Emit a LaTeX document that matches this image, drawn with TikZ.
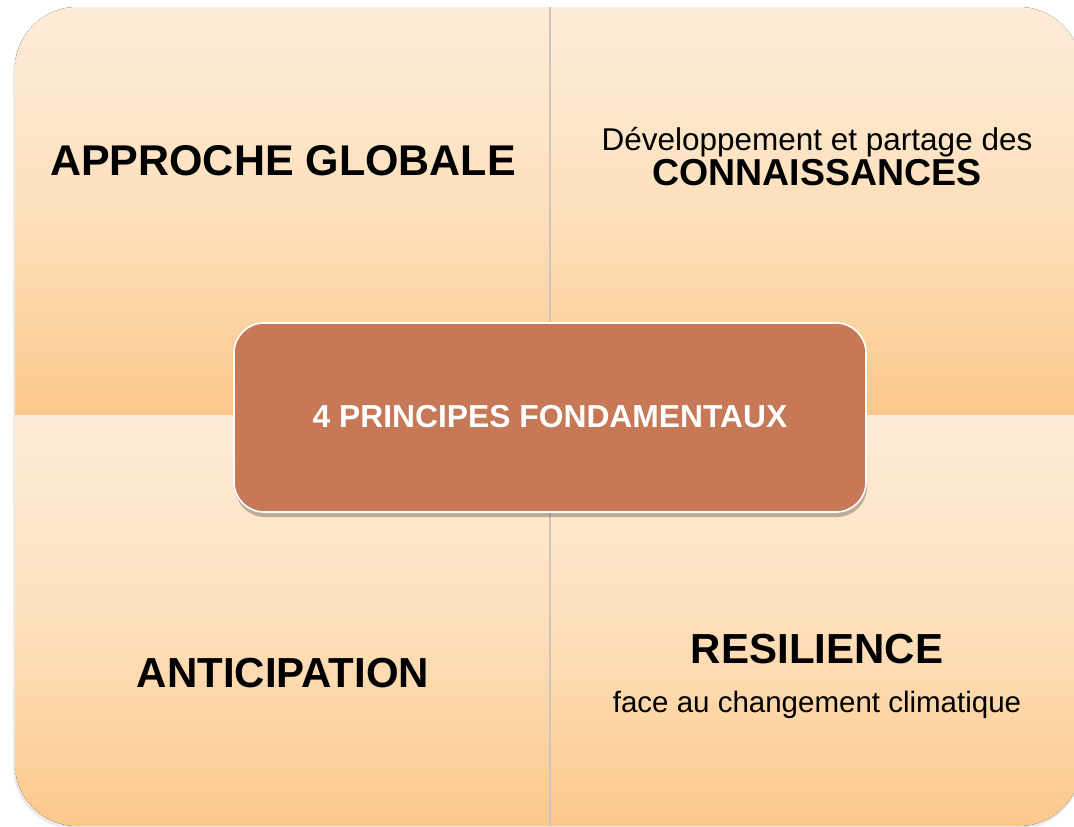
\documentclass[tikz,border=0pt]{standalone}
\usepackage{fontspec}
\setmainfont{Liberation Sans}
\usetikzlibrary{shadows}
\definecolor{peachlight}{RGB}{253,236,216}
\definecolor{peachmid}{RGB}{253,224,188}
\definecolor{peachdark}{RGB}{252,200,140}
\definecolor{centerfill}{RGB}{198,120,87}
\definecolor{divider}{RGB}{205,196,188}
\tikzset{
  quad/.style={top color=peachlight, bottom color=peachdark, middle color=peachmid},
  bigtxt/.style={font=\fontsize{43}{43}\selectfont\bfseries, text=black, inner sep=0pt, anchor=base},
  medtxt/.style={font=\fontsize{31.5}{31.5}\selectfont, text=black, inner sep=0pt, anchor=base},
  smalltxt/.style={font=\fontsize{29.5}{29.5}\selectfont, text=black, inner sep=0pt, anchor=base},
  centerbox/.style={draw=white, line width=1.6pt, fill=centerfill, rounded corners=30pt,
     drop shadow={shadow xshift=1pt, shadow yshift=-5pt, fill=black, opacity=0.25}},
}
\begin{document}
\begin{tikzpicture}[x=1pt,y=-1pt]
\useasboundingbox (0,0) rectangle (1074,827);
\fill[white] (0,0) rectangle (1074,827);
% outer shadow
\fill[black, opacity=0.08, rounded corners=62pt] (13,10) rectangle (1081,829);
\begin{scope}
  \clip[rounded corners=62pt] (15,7) rectangle (1081,826);
  \fill[quad] (15,7) rectangle (550,415);
  \fill[quad] (550,7) rectangle (1081,415);
  \fill[quad] (15,415) rectangle (550,826);
  \fill[quad] (550,415) rectangle (1081,826);
  \coordinate (dtop) at (550,7);
  \coordinate (dbot) at (550,826);
  \draw[divider, line width=2pt] (dtop) -- (dbot);
\end{scope}
\node[bigtxt] (tl) at (283,175) {APPROCHE GLOBALE};
\node[medtxt] (tr1) at (817,150) {Développement et partage des};
\node[bigtxt, font=\fontsize{37.5}{37.5}\selectfont\bfseries] (tr2) at (817,185) {CONNAISSANCES};
\node[bigtxt, font=\fontsize{42}{42}\selectfont\bfseries] (bl) at (283,687) {ANTICIPATION};
\node[bigtxt, font=\fontsize{42}{42}\selectfont\bfseries] (br1) at (817,663) {RESILIENCE};
\node[smalltxt] (br2) at (817,712) {face au changement climatique};
\path[centerbox] (234,323) rectangle (866,512);
\node[font=\fontsize{31.8}{31.8}\selectfont\bfseries, text=white, inner sep=0pt] (center) at (550,417) {4 PRINCIPES FONDAMENTAUX};
\end{tikzpicture}
\end{document}
